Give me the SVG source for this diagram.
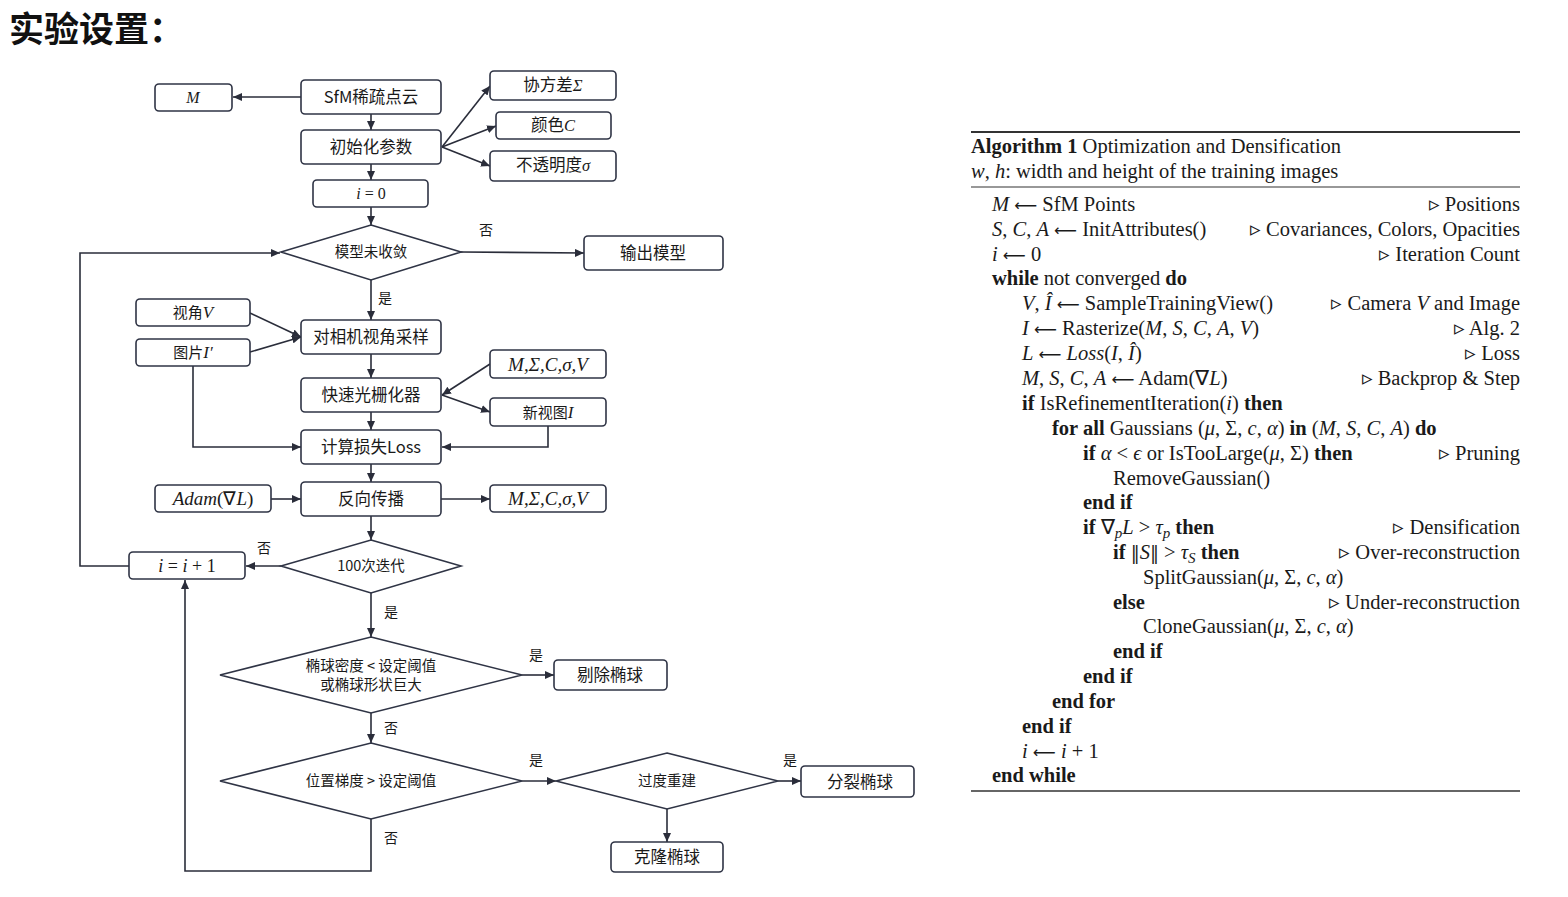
<svg xmlns="http://www.w3.org/2000/svg" width="1568" height="897" viewBox="0 0 1568 897">
<defs>
<marker id="ah" markerUnits="userSpaceOnUse" markerWidth="10" markerHeight="8" refX="9" refY="4" orient="auto">
<path d="M0,0 L9,4 L0,8 z" fill="#2a2d3a"/>
</marker>
<style>
.box{fill:#fff;stroke:#2f3445;stroke-width:1.6}
.dia{fill:#fff;stroke:#2f3445;stroke-width:1.6}
.arr{fill:none;stroke:#2a2d3a;stroke-width:1.6;marker-end:url(#ah)}
.cn{font-family:"Noto Sans CJK SC","Liberation Sans",sans-serif;font-size:16.5px;fill:#1a1a1a;text-anchor:middle}
.cs{font-family:"Noto Sans CJK SC","Liberation Sans",sans-serif;font-size:14.5px;fill:#1a1a1a;text-anchor:middle}
.cm{font-family:"Liberation Serif",serif;font-style:italic;font-size:19px;fill:#1a1a1a;text-anchor:middle}
.mi{font-family:"Liberation Serif",serif;font-style:italic}
.mr{font-family:"Liberation Serif",serif;font-style:normal}
.lb{font-family:"Noto Sans CJK SC",sans-serif;font-size:14px;fill:#1a1a1a;text-anchor:middle}
.al{font-family:"Liberation Serif",serif;font-size:20.5px;fill:#1a1a1a}
.rt{text-anchor:end}
.b{font-weight:bold}
.i{font-style:italic}
.ar{font-family:"DejaVu Sans",sans-serif;font-style:normal;font-size:16px}
.sb{font-size:15px}
.nm{font-family:"DejaVu Serif",serif;font-size:18px}
</style>
</defs>
<rect width="1568" height="897" fill="#fff"/>
<text x="9" y="42" font-family="Noto Sans CJK SC,sans-serif" font-size="35" font-weight="bold" fill="#111">实验设置：</text>

<g id="connectors">
<line class="arr" x1="301" y1="97" x2="233" y2="97"/>
<line class="arr" x1="371" y1="114" x2="371" y2="130"/>
<line class="arr" x1="442" y1="147" x2="490" y2="86"/>
<line class="arr" x1="442" y1="147" x2="496" y2="126"/>
<line class="arr" x1="442" y1="147" x2="490" y2="166"/>
<line class="arr" x1="371" y1="164" x2="371" y2="180"/>
<line class="arr" x1="371" y1="207" x2="371" y2="225"/>
<line class="arr" x1="461" y1="252" x2="584" y2="253"/>
<line class="arr" x1="371" y1="280" x2="371" y2="320"/>
<line class="arr" x1="250" y1="313" x2="301" y2="337"/>
<line class="arr" x1="250" y1="352" x2="301" y2="337"/>
<line class="arr" x1="371" y1="354" x2="371" y2="378"/>
<line class="arr" x1="490" y1="364" x2="442" y2="395"/>
<line class="arr" x1="442" y1="395" x2="490" y2="412"/>
<line class="arr" x1="371" y1="412" x2="371" y2="430"/>
<polyline class="arr" points="193,366 193,447 301,447"/>
<polyline class="arr" points="548,426 548,447 442,447"/>
<line class="arr" x1="371" y1="464" x2="371" y2="482"/>
<line class="arr" x1="271" y1="499" x2="301" y2="499"/>
<line class="arr" x1="441" y1="499" x2="490" y2="499"/>
<line class="arr" x1="371" y1="516" x2="371" y2="540"/>
<line class="arr" x1="281" y1="566" x2="246" y2="566"/>
<polyline class="arr" points="129,566 80,566 80,253 280,253"/>
<line class="arr" x1="371" y1="593" x2="371" y2="637"/>
<line class="arr" x1="522" y1="675" x2="554" y2="675"/>
<line class="arr" x1="371" y1="713" x2="371" y2="743"/>
<line class="arr" x1="522" y1="781" x2="556" y2="781"/>
<line class="arr" x1="778" y1="781" x2="801" y2="781"/>
<line class="arr" x1="667" y1="809" x2="667" y2="842"/>
<polyline class="arr" points="371,819 371,871 185,871 185,580"/>
<text class="lb" x="486" y="235">否</text>
<text class="lb" x="385" y="303">是</text>
<text class="lb" x="264" y="553">否</text>
<text class="lb" x="391" y="617">是</text>
<text class="lb" x="536" y="660">是</text>
<text class="lb" x="391" y="733">否</text>
<text class="lb" x="536" y="765">是</text>
<text class="lb" x="790" y="765">是</text>
<text class="lb" x="391" y="843">否</text>
</g>

<g id="n-M"><rect class="box" x="155" y="84" width="77" height="27" rx="4"/><text class="cm" x="193" y="103" style="font-size:16px">M</text></g>
<g id="n-sfm"><rect class="box" x="301" y="80" width="140" height="34" rx="4"/><text class="cn" x="371" y="103">SfM稀疏点云</text></g>
<g id="n-cov"><rect class="box" x="490" y="71" width="126" height="29" rx="4"/><text class="cn" x="553" y="91">协方差<tspan class="mi">Σ</tspan></text></g>
<g id="n-col"><rect class="box" x="496" y="112" width="115" height="27" rx="4"/><text class="cn" x="553" y="131">颜色<tspan class="mi">C</tspan></text></g>
<g id="n-opa"><rect class="box" x="490" y="151" width="126" height="30" rx="4"/><text class="cn" x="553" y="171">不透明度<tspan class="mi">σ</tspan></text></g>
<g id="n-init"><rect class="box" x="301" y="130" width="140" height="34" rx="4"/><text class="cn" x="371" y="153">初始化参数</text></g>
<g id="n-i0"><rect class="box" x="313" y="180" width="115" height="27" rx="4"/><text class="cm" x="371" y="199" style="font-size:16px">i<tspan class="mr"> = 0</tspan></text></g>
<g id="n-conv"><polygon class="dia" points="371,225 461,252 371,280 281,252"/><text class="cs" x="371" y="257">模型未收敛</text></g>
<g id="n-out"><rect class="box" x="584" y="236" width="139" height="34" rx="4"/><text class="cn" x="653" y="259">输出模型</text></g>
<g id="n-view"><rect class="box" x="136" y="299" width="114" height="27" rx="4"/><text class="cs" x="193" y="318" style="font-size:15px">视角<tspan class="mi" style="font-size:17px">V</tspan></text></g>
<g id="n-img"><rect class="box" x="136" y="339" width="114" height="27" rx="4"/><text class="cs" x="193" y="358" style="font-size:15px">图片<tspan class="mi" style="font-size:17px">I′</tspan></text></g>
<g id="n-samp"><rect class="box" x="301" y="320" width="140" height="34" rx="4"/><text class="cn" x="371" y="343">对相机视角采样</text></g>
<g id="n-p1"><rect class="box" x="490" y="350" width="116" height="28" rx="4"/><text class="cm" x="548" y="371">M,Σ,C,σ,V</text></g>
<g id="n-rast"><rect class="box" x="301" y="378" width="140" height="34" rx="4"/><text class="cn" x="371" y="401">快速光栅化器</text></g>
<g id="n-new"><rect class="box" x="490" y="398" width="116" height="28" rx="4"/><text class="cs" x="548" y="418" style="font-size:15px">新视图<tspan class="mi" style="font-size:17px">I</tspan></text></g>
<g id="n-loss"><rect class="box" x="301" y="430" width="140" height="34" rx="4"/><text class="cn" x="371" y="453">计算损失Loss</text></g>
<g id="n-adam"><rect class="box" x="155" y="485" width="116" height="27" rx="4"/><text class="cm" x="213" y="505">Adam<tspan class="mr">(∇</tspan>L<tspan class="mr">)</tspan></text></g>
<g id="n-back"><rect class="box" x="301" y="482" width="140" height="34" rx="4"/><text class="cn" x="371" y="505">反向传播</text></g>
<g id="n-p2"><rect class="box" x="490" y="485" width="116" height="27" rx="4"/><text class="cm" x="548" y="505">M,Σ,C,σ,V</text></g>
<g id="n-100"><polygon class="dia" points="371,540 461,566 371,593 281,566"/><text class="cs" x="371" y="571">100次迭代</text></g>
<g id="n-inc"><rect class="box" x="129" y="552" width="116" height="27" rx="4"/><text class="cm" x="187" y="572" style="font-size:18px">i<tspan class="mr"> = </tspan>i<tspan class="mr"> + 1</tspan></text></g>
<g id="n-dens"><polygon class="dia" points="371,637 522,675 371,713 220,675"/><text class="cs" x="371" y="671">椭球密度 &lt; 设定阈值</text><text class="cs" x="371" y="690">或椭球形状巨大</text></g>
<g id="n-rem"><rect class="box" x="554" y="660" width="113" height="30" rx="4"/><text class="cn" x="610" y="681">剔除椭球</text></g>
<g id="n-grad"><polygon class="dia" points="371,743 522,781 371,819 220,781"/><text class="cs" x="371" y="786">位置梯度 &gt; 设定阈值</text></g>
<g id="n-over"><polygon class="dia" points="667,753 778,781 667,809 556,781"/><text class="cs" x="667" y="786">过度重建</text></g>
<g id="n-split"><rect class="box" x="801" y="766" width="113" height="31" rx="4"/><text class="cn" x="860" y="788">分裂椭球</text></g>
<g id="n-clone"><rect class="box" x="611" y="842" width="112" height="30" rx="4"/><text class="cn" x="667" y="863">克隆椭球</text></g>

<g id="algorithm">
<line x1="971" y1="132" x2="1520" y2="132" stroke="#333" stroke-width="2"/>
<text class="al" x="971" y="153"><tspan class="b">Algorithm 1</tspan> Optimization and Densification</text>
<text class="al" x="971" y="178"><tspan class="i">w</tspan>, <tspan class="i">h</tspan>: width and height of the training images</text>
<line x1="971" y1="187" x2="1520" y2="187" stroke="#333" stroke-width="1.2"/>

<text class="al" x="992" y="211"><tspan class="i">M</tspan> <tspan class="ar">⟵</tspan> SfM Points</text>
<text class="al rt" x="1520" y="211">▹ Positions</text>
<text class="al" x="992" y="236"><tspan class="i">S</tspan>, <tspan class="i">C</tspan>, <tspan class="i">A</tspan> <tspan class="ar">⟵</tspan> InitAttributes()</text>
<text class="al rt" x="1520" y="236">▹ Covariances, Colors, Opacities</text>
<text class="al" x="992" y="261"><tspan class="i">i</tspan> <tspan class="ar">⟵</tspan> 0</text>
<text class="al rt" x="1520" y="261">▹ Iteration Count</text>
<text class="al" x="992" y="285"><tspan class="b">while</tspan> not converged <tspan class="b">do</tspan></text>
<text class="al" x="1022" y="310"><tspan class="i">V</tspan>, <tspan class="i">Î</tspan> <tspan class="ar">⟵</tspan> SampleTrainingView()</text>
<text class="al rt" x="1520" y="310">▹ Camera <tspan class="i">V</tspan> and Image</text>
<text class="al" x="1022" y="335"><tspan class="i">I</tspan> <tspan class="ar">⟵</tspan> Rasterize(<tspan class="i">M</tspan>, <tspan class="i">S</tspan>, <tspan class="i">C</tspan>, <tspan class="i">A</tspan>, <tspan class="i">V</tspan>)</text>
<text class="al rt" x="1520" y="335">▹ Alg. 2</text>
<text class="al" x="1022" y="360"><tspan class="i">L</tspan> <tspan class="ar">⟵</tspan> <tspan class="i">Loss</tspan>(<tspan class="i">I</tspan>, <tspan class="i">Î</tspan>)</text>
<text class="al rt" x="1520" y="360">▹ Loss</text>
<text class="al" x="1022" y="385"><tspan class="i">M</tspan>, <tspan class="i">S</tspan>, <tspan class="i">C</tspan>, <tspan class="i">A</tspan> <tspan class="ar">⟵</tspan> Adam(∇<tspan class="i">L</tspan>)</text>
<text class="al rt" x="1520" y="385">▹ Backprop &amp; Step</text>
<text class="al" x="1022" y="410"><tspan class="b">if</tspan> IsRefinementIteration(<tspan class="i">i</tspan>) <tspan class="b">then</tspan></text>
<text class="al" x="1052" y="435"><tspan class="b">for all</tspan> Gaussians (<tspan class="i">μ</tspan>, Σ, <tspan class="i">c</tspan>, <tspan class="i">α</tspan>) <tspan class="b">in</tspan> (<tspan class="i">M</tspan>, <tspan class="i">S</tspan>, <tspan class="i">C</tspan>, <tspan class="i">A</tspan>) <tspan class="b">do</tspan></text>
<text class="al" x="1083" y="460"><tspan class="b">if</tspan> <tspan class="i">α</tspan> &lt; <tspan class="i">ϵ</tspan> or IsTooLarge(<tspan class="i">μ</tspan>, Σ) <tspan class="b">then</tspan></text>
<text class="al rt" x="1520" y="460">▹ Pruning</text>
<text class="al" x="1113" y="485">RemoveGaussian()</text>
<text class="al" x="1083" y="509"><tspan class="b">end if</tspan></text>
<text class="al" x="1083" y="534"><tspan class="b">if</tspan> ∇<tspan class="i sb" dy="4">p</tspan><tspan class="i" dy="-4">L</tspan> &gt; <tspan class="i">τ</tspan><tspan class="i sb" dy="4">p</tspan><tspan dy="-4"> </tspan><tspan class="b">then</tspan></text>
<text class="al rt" x="1520" y="534">▹ Densification</text>
<text class="al" x="1113" y="559"><tspan class="b">if</tspan> <tspan class="nm">‖</tspan><tspan class="i">S</tspan><tspan class="nm">‖</tspan> &gt; <tspan class="i">τ</tspan><tspan class="i sb" dy="4">S</tspan><tspan dy="-4"> </tspan><tspan class="b">then</tspan></text>
<text class="al rt" x="1520" y="559">▹ Over-reconstruction</text>
<text class="al" x="1143" y="584">SplitGaussian(<tspan class="i">μ</tspan>, Σ, <tspan class="i">c</tspan>, <tspan class="i">α</tspan>)</text>
<text class="al" x="1113" y="609"><tspan class="b">else</tspan></text>
<text class="al rt" x="1520" y="609">▹ Under-reconstruction</text>
<text class="al" x="1143" y="633">CloneGaussian(<tspan class="i">μ</tspan>, Σ, <tspan class="i">c</tspan>, <tspan class="i">α</tspan>)</text>
<text class="al" x="1113" y="658"><tspan class="b">end if</tspan></text>
<text class="al" x="1083" y="683"><tspan class="b">end if</tspan></text>
<text class="al" x="1052" y="708"><tspan class="b">end for</tspan></text>
<text class="al" x="1022" y="733"><tspan class="b">end if</tspan></text>
<text class="al" x="1022" y="758"><tspan class="i">i</tspan> <tspan class="ar">⟵</tspan> <tspan class="i">i</tspan> + 1</text>
<text class="al" x="992" y="782"><tspan class="b">end while</tspan></text>
<line x1="971" y1="791" x2="1520" y2="791" stroke="#333" stroke-width="1.5"/>
</g>
</svg>
